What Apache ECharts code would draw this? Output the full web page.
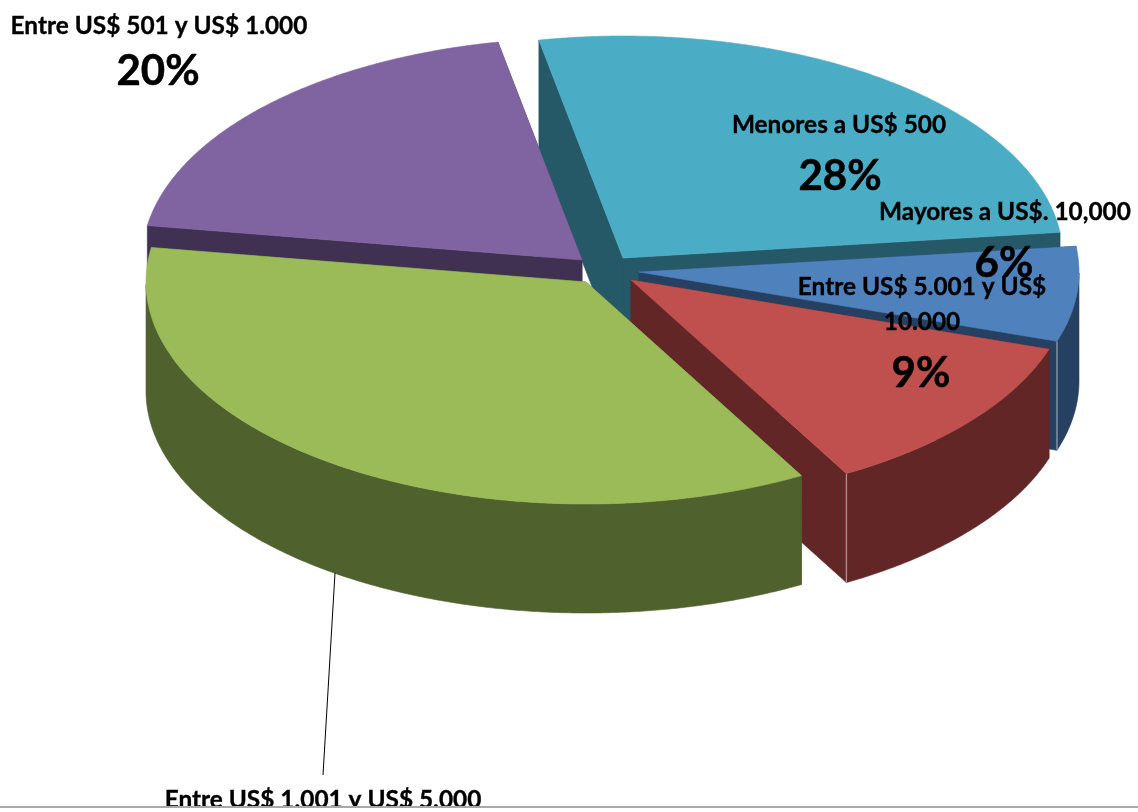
<!DOCTYPE html>
<html>
<head>
<meta charset="utf-8">
<style>html,body{margin:0;padding:0;background:#fff}#c{width:1138px;height:812px}</style>
<script src="https://cdn.jsdelivr.net/npm/echarts@6/dist/echarts.min.js"></script>
</head>
<body>
<div id="c"></div>
<script>
var categories = ['Menores a US$ 500','Mayores a US$. 10,000','Entre US$ 5.001 y US$\n10.000','Entre US$ 1.001 y US$ 5.000','Entre US$ 501 y US$ 1.000'];
var shares = [28, 6, 9, 37, 20];
var topColors = ['#4BACC6','#4F81BD','#C0504D','#9BBB59','#8064A2'];
var wallColors = ['#265967','#264061','#632626','#4F612D','#403152'];
var drawOrder = [0,4,1,2,3];

var view = {cx:605, cy:270, rx:440, ry:222, depth:109, warp:1.28, start:-14};
// how far each slice is pulled out of the pie, in pixels [dx, dy]
var explodeOffsets = [[18,-12],[34,2],[26,10],[-19,12],[-23,-10]];
// small per-boundary correction (degrees) for the source's 3D perspective
var perspectiveNudge = [-2,-4,3.5,3,0];
// label anchors: [x of name, y of name, x of percent, y of percent]
var labelAnchors = [[839,125,840,176],[1005,212,1004,263],[922,305,921,373],[323,800,323,860],[159,26,158,71]];

var total = shares.reduce(function(a,b){return a+b;},0);
var bounds = [], acc = view.start;
shares.forEach(function(v,i){
  var a=acc+(i>0?perspectiveNudge[i-1]:0);
  acc+=v/total*360;
  bounds.push([a,acc+perspectiveNudge[i]]);
});

function project(deg){
  var t=deg*Math.PI/180, s=Math.sin(t), c=Math.cos(t)*view.warp, n=Math.sqrt(s*s+c*c);
  return [view.rx*s/n, -view.ry*c/n];
}
function sliceShapes(i){
  var b=bounds[i], e=explodeOffsets[i];
  var ox=view.cx+e[0], oy=view.cy+e[1];
  var arc=[], front=[], d;
  var steps=Math.ceil((b[1]-b[0])*2);
  for(var k=0;k<=steps;k++){
    d=b[0]+(b[1]-b[0])*k/steps;
    var p=project(d), q=[ox+p[0],oy+p[1]];
    arc.push(q);
    var m=((d%360)+360)%360;
    if(m>=90&&m<=270) front.push(q);
  }
  return {ox:ox,oy:oy,arc:arc,front:front};
}
function down(p){return [p[0],p[1]+view.depth];}
function poly(points,fill){
  return {type:'polygon',shape:{points:points},style:{fill:fill,stroke:fill,lineWidth:0.6,lineJoin:'round'}};
}
var edge='rgba(255,255,255,0.45)';

function renderSlice(params,api){
  var i=api.value(0), g=sliceShapes(i), a=[g.ox,g.oy], ch=[];
  var first=g.arc[0], last=g.arc[g.arc.length-1];
  ch.push(poly([a,first,down(first),down(a)],wallColors[i]));
  ch.push(poly([a,last,down(last),down(a)],wallColors[i]));
  if(g.front.length>1){
    var f=g.front.slice(), r=f.map(down).reverse();
    ch.push(poly(f.concat(r),wallColors[i]));
  }
  if(i===1||i===2){
    ch.push({type:'line',shape:{x1:last[0],y1:last[1],x2:last[0],y2:last[1]+view.depth},style:{stroke:edge,lineWidth:1.4}});
  }
  ch.push(poly([a].concat(g.arc),topColors[i]));
  return {type:'group',children:ch};
}
function renderLabel(params,api){
  var i=api.value(0), L=labelAnchors[i], ch=[];
  ch.push({type:'text',style:{x:L[0],y:L[1],text:categories[i],font:'bold 24.4px Lato',fill:'#000',stroke:'#000',lineWidth:0.35,align:'center',verticalAlign:'middle',lineHeight:35}});
  ch.push({type:'text',style:{x:L[2],y:L[3],text:api.value(1)+'%',font:'bold 42px Lato',fill:'#000',stroke:'#000',lineWidth:0.5,align:'center',verticalAlign:'middle'}});
  return {type:'group',children:ch};
}
var chart=echarts.init(document.getElementById('c'),null,{renderer:'canvas'});
chart.setOption({
  animation:false,
  backgroundColor:'#ffffff',
  series:[
    {type:'custom',coordinateSystem:'none',silent:true,z:2,renderItem:renderSlice,
     data:drawOrder.map(function(i){return [i,shares[i]];})},
    {type:'custom',coordinateSystem:'none',silent:true,z:3,renderItem:function(p,api){
       return {type:'line',shape:{x1:335,y1:573,x2:323,y2:775},style:{stroke:'#000',lineWidth:1}};
     },data:[[0]]},
    {type:'custom',coordinateSystem:'none',silent:true,z:4,renderItem:renderLabel,
     data:shares.map(function(v,i){return [i,v];})}
  ],
  graphic:[
    {type:'rect',z:100,shape:{x:0,y:806,width:1138,height:6},style:{fill:'#fff'}},
    {type:'line',z:101,shape:{x1:0,y1:807,x2:1138,y2:807},style:{stroke:'#8c8c8c',lineWidth:1.5}}
  ]
});
</script>
</body>
</html>
